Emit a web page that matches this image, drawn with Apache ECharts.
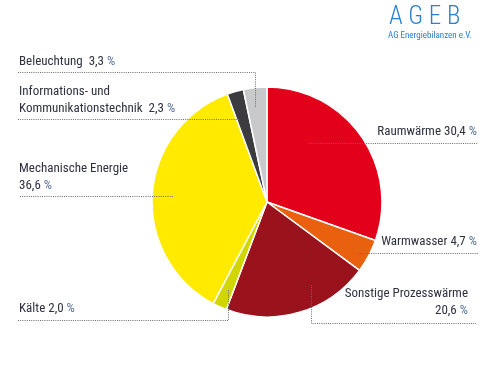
<!DOCTYPE html>
<html><head><meta charset="utf-8">
<script src="https://cdn.jsdelivr.net/npm/echarts@6/dist/echarts.min.js"></script>
<style>html,body{margin:0;padding:0;background:#fff}#c{width:490px;height:368px}</style>
</head><body><div id="c"></div>
<script>
// Data
var categories = ['Raumwärme', 'Warmwasser', 'Sonstige Prozesswärme', 'Kälte', 'Mechanische Energie', 'Informations- und Kommunikationstechnik', 'Beleuchtung'];
var labelNames = ['Raumwärme ', 'Warmwasser ', 'Sonstige Prozesswärme\n', 'Kälte ', 'Mechanische Energie\n', 'Informations- und\nKommunikationstechnik  ', 'Beleuchtung  '];
var shares = [30.4, 4.7, 20.6, 2.0, 36.6, 2.3, 3.3];
var colors = ['#E3001B', '#E9600F', '#9A131C', '#D2D600', '#FFEA00', '#3C3C40', '#C8C9CB'];

// Layout of labels and leader lines (positions only)
var layout = [
  {x: 477, y: 140, align: 'right', pts: [[309,143.5],[400,143.5],[478,143.5]]},
  {x: 477, y: 250, align: 'right', pts: [[358,253.5],[420,253.5],[478,253.5]]},
  {x: 468, y: 319, align: 'right', pts: [[311.5,285],[311.5,323.5],[476,323.5]]},
  {x: 19,  y: 317, align: 'left',  pts: [[18,320.5],[228.5,320.5],[228.5,290]]},
  {x: 19,  y: 194, align: 'left',  pts: [[20,196.5],[100,196.5],[173,196.5]]},
  {x: 19,  y: 117, align: 'left',  pts: [[18,119.5],[130,119.5],[240,119.5]]},
  {x: 19,  y: 70,  align: 'left',  pts: [[18,72.5],[255.5,72.5],[255.5,108]]}
];

function fmt(v){ return v.toFixed(1).replace('.', ','); }

var font = '"Roboto Condensed", "DejaVu Sans Condensed", sans-serif';
var sliceData = categories.map(function(c, i){
  return {name: c, value: shares[i], itemStyle: {color: colors[i]}};
});
var labelData = categories.map(function(c, i){
  return {name: c, value: shares[i]};
});

var chart = echarts.init(document.getElementById('c'), null, {renderer: 'canvas'});
chart.setOption({
  animation: false,
  graphic: [
    {type: 'text', left: 389, top: 5, style: {text: 'A G E B', fill: '#2a80cf', font: '300 25px "Roboto Condensed", sans-serif'}},
    {type: 'text', left: 388, top: 31, style: {text: 'AG Energiebilanzen e.V.', fill: '#2a80cf', font: '9px ' + font}}
  ],
  series: [{
    type: 'pie',
    center: [267, 202],
    radius: 115,
    startAngle: 90,
    clockwise: true,
    data: sliceData,
    silent: true,
    itemStyle: {borderColor: '#fff', borderWidth: 1.5},
    label: {show: false},
    labelLine: {show: false}
  }, {
    type: 'pie',
    z: 5,
    center: [267, 202],
    radius: 115,
    startAngle: 90,
    clockwise: true,
    silent: true,
    avoidLabelOverlap: false,
    data: labelData,
    itemStyle: {color: 'rgba(0,0,0,0)', borderWidth: 0},
    label: {
      show: true,
      position: 'outside',
      fontFamily: font,
      fontSize: 13,
      lineHeight: 17,
      color: '#2e3140',
      formatter: function(p){
        var i = p.dataIndex;
        return labelNames[i] + fmt(shares[i]) + ' {p|%}';
      },
      rich: {p: {color: '#5a7299', fontFamily: font, fontSize: 13, lineHeight: 17}}
    },
    labelLine: {
      show: true,
      lineStyle: {color: '#6a6a6a', width: 1, type: [1, 1.2]}
    },
    labelLayout: function(p){
      var L = layout[p.dataIndex];
      return {x: L.x, y: L.y, align: L.align, verticalAlign: 'bottom', labelLinePoints: L.pts};
    }
  }]
});
</script></body></html>
